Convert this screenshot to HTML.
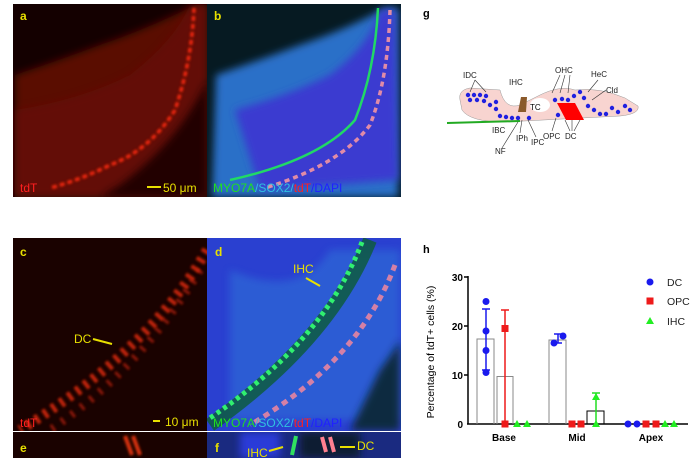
<!DOCTYPE html>
<html><head><meta charset="utf-8"><style>
html,body{margin:0;padding:0;background:#fff;width:700px;height:464px;overflow:hidden;font-family:"Liberation Sans",Arial,sans-serif}
</style></head><body>
<svg width="700" height="464" viewBox="0 0 700 464" xmlns="http://www.w3.org/2000/svg" font-family="Liberation Sans, Arial, sans-serif">
<defs>
<filter id="bl" x="-20%" y="-20%" width="140%" height="140%"><feGaussianBlur stdDeviation="4"/></filter>
<filter id="bl2" x="-20%" y="-20%" width="140%" height="140%"><feGaussianBlur stdDeviation="1.2"/></filter>
<clipPath id="ca"><rect x="13" y="4" width="194" height="193"/></clipPath>
<clipPath id="cb"><rect x="207" y="4" width="194" height="193"/></clipPath>
<clipPath id="cc"><rect x="13" y="238" width="194" height="193"/></clipPath>
<clipPath id="cd"><rect x="207" y="238" width="194" height="193"/></clipPath>
<clipPath id="ce"><rect x="13" y="432" width="194" height="26"/></clipPath>
<clipPath id="cf"><rect x="207" y="432" width="194" height="26"/></clipPath>
</defs>
<!-- panel a -->
<g clip-path="url(#ca)">
<rect x="13" y="4" width="194" height="193" fill="#140000"/>
<path d="M15 75 Q60 60 100 45 Q150 28 195 5 L207 5 L207 197 L15 197 Z" fill="#5a0c06" filter="url(#bl)"/>
<path d="M15 110 Q80 100 130 75 Q175 40 190 5 L207 5 L207 197 L15 197 Z" fill="#6a1008" opacity="0.6" filter="url(#bl)"/>
<path d="M120 185 Q180 140 207 80 L207 197 L100 197 Z" fill="#200200" filter="url(#bl)"/>
<path d="M194 8 Q192 60 175 110 Q150 150 110 165 Q80 180 50 188" stroke="#ff2a10" stroke-width="3.5" fill="none" stroke-dasharray="5 3" opacity="0.9" filter="url(#bl2)"/>
</g>
<text x="20" y="20" font-size="12" font-weight="bold" fill="#e8e000">a</text>
<text x="20" y="192" font-size="12" fill="#ff2020">tdT</text>
<line x1="147" y1="187" x2="161" y2="187" stroke="#e8e000" stroke-width="2"/>
<text x="163" y="192" font-size="12" fill="#e8e000">50 μm</text>
<!-- panel b -->
<g clip-path="url(#cb)">
<rect x="207" y="4" width="194" height="193" fill="#061a22"/>
<path d="M216 75 Q260 60 300 45 Q350 28 385 8 L398 8 L398 197 L212 197 Z" fill="#2a70c8" filter="url(#bl)"/>
<path d="M235 110 Q290 95 330 75 Q370 45 380 10 L395 10 L398 180 L260 190 Z" fill="#3a3ad0" filter="url(#bl)"/>
<path d="M378 8 Q375 70 355 120 Q320 160 230 180" stroke="#20e060" stroke-width="2.5" fill="none" opacity="0.95"/>
<path d="M390 10 Q388 80 370 125 Q340 165 265 188" stroke="#ff9aa0" stroke-width="3.5" fill="none" stroke-dasharray="5 4" opacity="0.85"/>
</g>
<text x="214" y="20" font-size="12" font-weight="bold" fill="#e8e000">b</text>
<text x="213" y="192" font-size="12"><tspan fill="#20e020">MYO7A</tspan><tspan fill="#30c0e0">/SOX2/</tspan><tspan fill="#ff2020">tdT</tspan><tspan fill="#2020ff">/DAPI</tspan></text>
<!-- panel c -->
<g clip-path="url(#cc)">
<rect x="13" y="238" width="194" height="193" fill="#1a0200"/>
<path d="M207 250 Q150 350 20 430" stroke="#e02a08" stroke-width="10" fill="none" stroke-dasharray="4 6" opacity="0.85" filter="url(#bl2)"/>
<path d="M200 270 Q140 370 50 430" stroke="#c02008" stroke-width="8" fill="none" stroke-dasharray="3 9" opacity="0.7" filter="url(#bl2)"/>
</g>
<g clip-path="url(#ce)">
<rect x="13" y="432" width="194" height="26" fill="#1a0200"/>
<path d="M125 436 L132 455 M133 436 L140 455" stroke="#d83010" stroke-width="4" filter="url(#bl2)"/>
</g>
<text x="20" y="256" font-size="12" font-weight="bold" fill="#e8e000">c</text>
<text x="74" y="343" font-size="12" fill="#e8e000">DC</text>
<line x1="93" y1="339" x2="112" y2="344" stroke="#e8e000" stroke-width="2"/>
<text x="20" y="427" font-size="12" fill="#ff2020">tdT</text>
<line x1="153" y1="421" x2="160" y2="421" stroke="#e8e000" stroke-width="2"/>
<text x="165" y="426" font-size="12" fill="#e8e000">10 μm</text>
<text x="20" y="452" font-size="12" font-weight="bold" fill="#e8e000">e</text>
<!-- panel d -->
<g clip-path="url(#cd)">
<rect x="207" y="238" width="194" height="193" fill="#2a40d0"/>
<path d="M230 270 Q300 300 330 250 L400 250 L400 420 L230 420 Z" fill="#2f70d8" opacity="0.6" filter="url(#bl)"/>
<path d="M370 240 Q330 340 210 425" stroke="#0e5a40" stroke-width="14" fill="none" opacity="0.85"/>
<path d="M362 242 Q325 340 210 418" stroke="#30f070" stroke-width="5" fill="none" stroke-dasharray="4 4"/>
<path d="M395 265 Q360 360 250 425" stroke="#ff8a9a" stroke-width="5" fill="none" stroke-dasharray="6 5" opacity="0.8"/>
<path d="M380 370 Q395 350 400 340 L400 431 L350 431 Z" fill="#0a2a40" filter="url(#bl)"/>
</g>
<g clip-path="url(#cf)">
<rect x="207" y="432" width="194" height="26" fill="#1a2a80"/>
<rect x="240" y="432" width="40" height="26" fill="#2a3ad8" filter="url(#bl)"/>
<rect x="300" y="432" width="60" height="26" fill="#0a1a30" filter="url(#bl)"/>
<path d="M296 436 L292 455" stroke="#30e060" stroke-width="4"/>
<path d="M322 437 L326 452 M330 437 L334 452" stroke="#ff8090" stroke-width="4"/>
</g>
<text x="215" y="256" font-size="12" font-weight="bold" fill="#e8e000">d</text>
<text x="293" y="273" font-size="12" fill="#e8e000">IHC</text>
<line x1="306" y1="278" x2="320" y2="286" stroke="#e8e000" stroke-width="2"/>
<text x="213" y="427" font-size="12"><tspan fill="#20e020">MYO7A</tspan><tspan fill="#30c0e0">/SOX2/</tspan><tspan fill="#ff2020">tdT</tspan><tspan fill="#2020ff">/DAPI</tspan></text>
<text x="215" y="452" font-size="12" font-weight="bold" fill="#e8e000">f</text>
<text x="247" y="457" font-size="12" fill="#e8e000">IHC</text>
<line x1="269" y1="451" x2="283" y2="447" stroke="#e8e000" stroke-width="2"/>
<text x="357" y="450" font-size="12" fill="#e8e000">DC</text>
<line x1="340" y1="447" x2="355" y2="447" stroke="#e8e000" stroke-width="2"/>
<!-- panel g -->
<text x="423" y="17" font-size="11" font-weight="bold">g</text>
<path d="M460 100 Q458 90 470 88 L500 90 Q505 110 520 105 Q530 100 540 95 Q560 85 575 90 Q600 87 625 98 L638 106 Q640 114 620 116 L505 122 Q470 122 462 110 Z" fill="#f8d4d0" stroke="#999" stroke-width="0.5"/>
<path d="M521 97 L527 97 L526 112 L518 112 Z" fill="#8b5a2b"/>
<ellipse cx="540" cy="105" rx="10" ry="7" fill="#fff"/>
<text x="530" y="110" font-size="8">TC</text>
<path d="M557 103 L566 120 L572 120 L563 103 Z M563 103 L572 120 L578 120 L569 103 Z M569 103 L578 120 L584 120 L575 103 Z" fill="#f00"/>
<line x1="447" y1="123" x2="520" y2="121" stroke="#2a2" stroke-width="2"/>
<g fill="#2020e0">
<circle cx="468" cy="95" r="2.2"/><circle cx="474" cy="95" r="2.2"/><circle cx="480" cy="95" r="2.2"/><circle cx="486" cy="96" r="2.2"/><circle cx="470" cy="100" r="2.2"/><circle cx="477" cy="100" r="2.2"/><circle cx="484" cy="101" r="2.2"/><circle cx="490" cy="105" r="2.2"/><circle cx="496" cy="102" r="2.2"/><circle cx="496" cy="109" r="2.2"/><circle cx="500" cy="116" r="2.2"/><circle cx="506" cy="117" r="2.2"/><circle cx="512" cy="118" r="2.2"/><circle cx="518" cy="118" r="2.2"/><circle cx="529" cy="118" r="2.2"/><circle cx="558" cy="115" r="2.2"/><circle cx="555" cy="100" r="2.2"/><circle cx="562" cy="99" r="2.2"/><circle cx="568" cy="100" r="2.2"/><circle cx="574" cy="96" r="2.2"/><circle cx="580" cy="92" r="2.2"/><circle cx="584" cy="98" r="2.2"/><circle cx="588" cy="106" r="2.2"/><circle cx="594" cy="110" r="2.2"/><circle cx="600" cy="114" r="2.2"/><circle cx="606" cy="114" r="2.2"/><circle cx="612" cy="108" r="2.2"/><circle cx="618" cy="112" r="2.2"/><circle cx="625" cy="106" r="2.2"/><circle cx="630" cy="110" r="2.2"/>
</g>
<g font-size="8" fill="#222">
<text x="463" y="78">IDC</text><text x="509" y="85">IHC</text><text x="555" y="73">OHC</text><text x="591" y="77">HeC</text><text x="606" y="93">Cld</text>
<text x="492" y="133">IBC</text><text x="516" y="141">IPh</text><text x="531" y="145">IPC</text><text x="543" y="139">OPC</text><text x="565" y="139">DC</text><text x="495" y="154">NF</text>
</g>
<g stroke="#333" stroke-width="0.6">
<line x1="475" y1="80" x2="470" y2="92"/><line x1="475" y1="80" x2="486" y2="92"/>
<line x1="560" y1="75" x2="552" y2="93"/><line x1="565" y1="75" x2="560" y2="93"/><line x1="570" y1="75" x2="568" y2="93"/>
<line x1="598" y1="80" x2="588" y2="92"/><line x1="606" y1="90" x2="592" y2="100"/>
<line x1="570" y1="131" x2="565" y2="120"/><line x1="572" y1="131" x2="572" y2="120"/><line x1="574" y1="131" x2="580" y2="120"/>
<line x1="502" y1="148" x2="518" y2="122"/><line x1="520" y1="133" x2="522" y2="120"/><line x1="536" y1="137" x2="528" y2="120"/><line x1="552" y1="131" x2="556" y2="118"/>
</g>
<!-- panel h -->
<text x="423" y="253" font-size="11" font-weight="bold">h</text>
<g font-size="10" font-weight="bold" text-anchor="end">
<text x="463" y="281">30</text><text x="463" y="330">20</text><text x="463" y="379">10</text><text x="463" y="428">0</text>
</g>
<text transform="translate(434,352) rotate(-90)" font-size="10.5" text-anchor="middle">Percentage of tdT+ cells (%)</text>
<g stroke="#000" stroke-width="1.5">
<line x1="468" y1="276" x2="468" y2="424"/><line x1="467" y1="424" x2="688" y2="424"/>
<line x1="464" y1="277" x2="468" y2="277"/><line x1="464" y1="326" x2="468" y2="326"/><line x1="464" y1="375" x2="468" y2="375"/>
</g>
<g fill="none" stroke-width="1">
<path d="M477 424 V339 H494 V424" stroke="#888"/>
<path d="M497 424 V376.5 H513 V424" stroke="#888"/>
<path d="M549 424 V340 H566 V424" stroke="#888"/>
<path d="M587 424 V411 H604 V424" stroke="#000"/>
</g>
<g stroke-width="1.5">
<path d="M486 370 V309 M482 309 H490 M482 370 H490" stroke="#1a1aee"/>
<path d="M505 424 V310 M501 310 H509" stroke="#ee1a1a"/>
<path d="M558 343 V334 M554 334 H562 M554 343 H562" stroke="#1a1aee"/>
<path d="M596 424 V393 M592 393 H600" stroke="#22dd22"/>
</g>
<g fill="#1a1aee">
<circle cx="486" cy="301.5" r="3.5"/><circle cx="486" cy="331" r="3.5"/><circle cx="486" cy="350.5" r="3.5"/><circle cx="486" cy="372.5" r="3.5"/>
<circle cx="554" cy="343" r="3.5"/><circle cx="563" cy="336" r="3.5"/>
<circle cx="628" cy="424" r="3.5"/><circle cx="637" cy="424" r="3.5"/>
<circle cx="650" cy="282" r="3.5"/>
</g>
<g fill="#ee1a1a">
<rect x="501.5" y="325" width="7" height="7"/><rect x="501.5" y="420.5" width="7" height="7"/>
<rect x="568.5" y="420.5" width="7" height="7"/><rect x="577.5" y="420.5" width="7" height="7"/>
<rect x="642.5" y="420.5" width="7" height="7"/><rect x="652.5" y="420.5" width="7" height="7"/>
<rect x="646.5" y="297.5" width="7" height="7"/>
</g>
<g fill="#22ee22">
<path d="M517 420 l4 7 h-8z M527 420 l4 7 h-8z M596 393 l4 7 h-8z M596 420 l4 7 h-8z M665 420 l4 7 h-8z M674 420 l4 7 h-8z M650 317 l4 7 h-8z"/>
</g>
<g font-size="10.5" fill="#222">
<text x="667" y="286">DC</text><text x="667" y="305">OPC</text><text x="667" y="325">IHC</text>
</g>
<g font-size="10" font-weight="bold" text-anchor="middle">
<text x="504" y="441">Base</text><text x="577" y="441">Mid</text><text x="651" y="441">Apex</text>
</g>
</svg>
</body></html>
